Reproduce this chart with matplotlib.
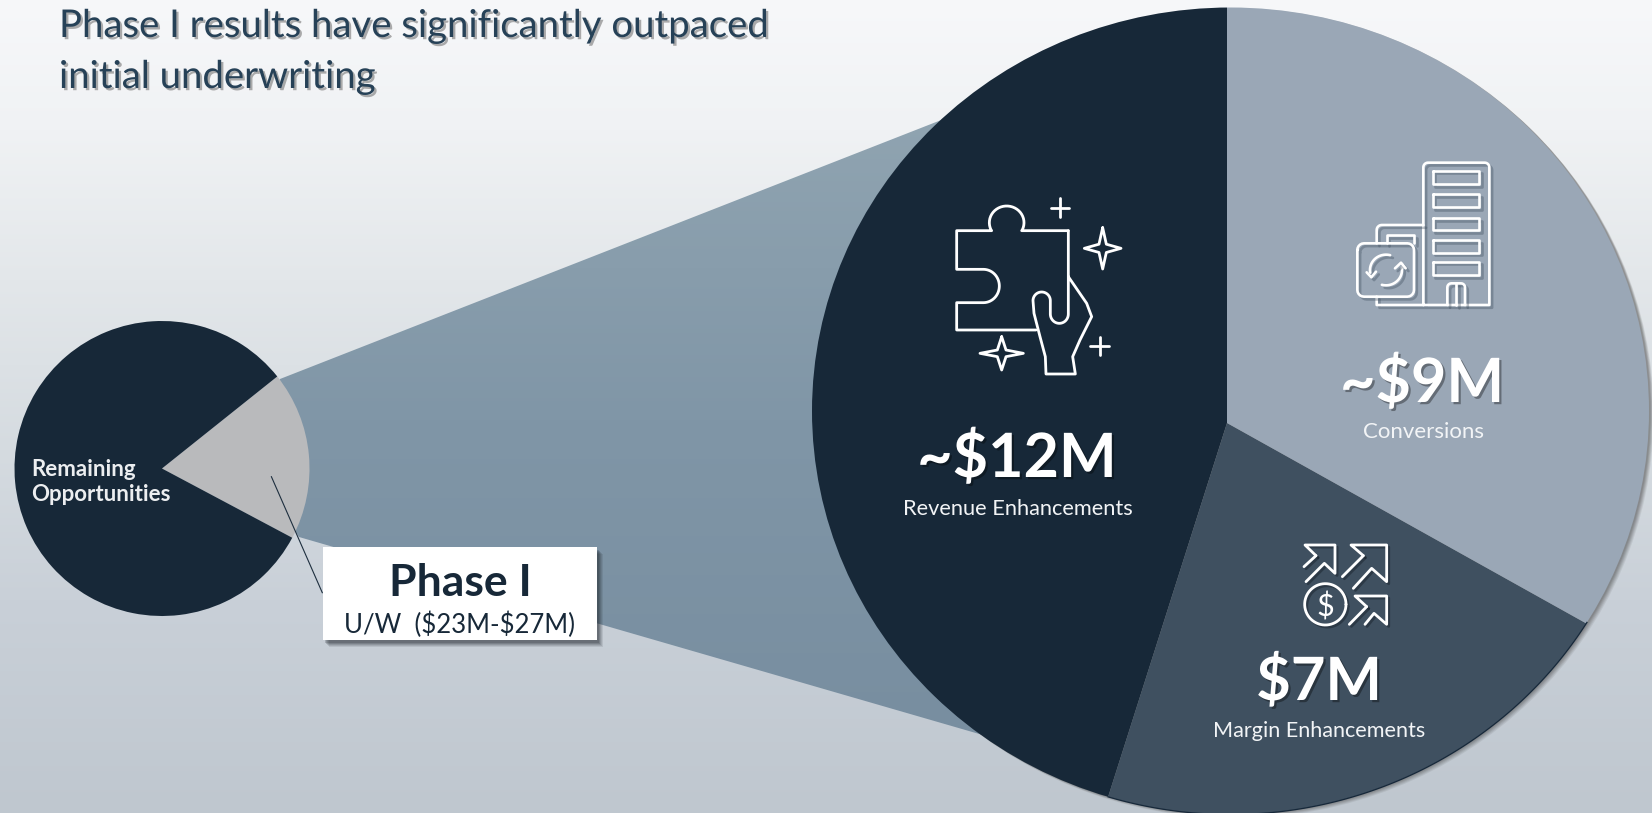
import numpy as np
import matplotlib
matplotlib.use("Agg")
import matplotlib.pyplot as plt
import matplotlib.patheffects as pe
from matplotlib.patches import Ellipse, Polygon, Rectangle

# ---- data -------------------------------------------------------------
overview_labels = ["Phase I", "Remaining Opportunities"]
overview_shares = [18.5, 81.5]
overview_colors = ["#b9babc", "#172838"]

phase_labels = ["Revenue Enhancements", "Margin Enhancements", "Conversions"]
phase_amounts = ["~$12M", "$7M", "~$9M"]
phase_shares = [45.1, 21.8, 33.1]
phase_colors = ["#172838", "#3f5060", "#9aa7b6"]

title_lines = ["Phase I results have significantly outpaced", "initial underwriting"]

W, H = 1652, 813
FONT = "Lato"
WHITE = "#ffffff"


def Y(py):
    return H - py


fig = plt.figure(figsize=(W / 100, H / 100), dpi=100)
ax = fig.add_axes([0, 0, 1, 1])

# ---- background gradient ----------------------------------------------
stop_y = [0, 130, 280, 450, 600, 813]
stop_c = np.array([[0xf7, 0xf8, 0xfa], [0xf0, 0xf2, 0xf4], [0xe3, 0xe7, 0xea],
                   [0xd5, 0xdb, 0xe0], [0xc9, 0xd0, 0xd8], [0xbf, 0xc7, 0xcf]]) / 255
rows = np.arange(H)
bg = np.stack([np.interp(rows, stop_y, stop_c[:, i]) for i in range(3)], axis=1)[:, None, :]
ax.imshow(bg, extent=(0, W, 0, H), origin="upper", aspect="auto", zorder=0)

# ---- funnel between the pies ------------------------------------------
f_stop_y = [116, 420, 730]
f_stop_c = np.array([[0x90, 0xa4, 0xb1], [0x80, 0x96, 0xa7], [0x78, 0x8e, 0xa0]]) / 255
f_rows = np.arange(813)
fg = np.stack([np.interp(f_rows, f_stop_y, f_stop_c[:, i]) for i in range(3)], axis=1)[:, None, :]
fim = ax.imshow(fg, extent=(0, W, 0, H), origin="upper", aspect="auto", zorder=1)
funnel = Polygon([(280, Y(379)), (1000, Y(97)), (1000, Y(740)), (299, Y(537)), (250, Y(460))],
                 closed=True, transform=ax.transData, facecolor="none", edgecolor="none")
ax.add_patch(funnel)
fim.set_clip_path(funnel)

# ---- small pie --------------------------------------------------------
ax.pie(overview_shares, colors=overview_colors, startangle=-28, counterclock=True,
       center=(162, Y(468.5)), radius=147.5, frame=False,
       wedgeprops=dict(linewidth=0, zorder=3))

# ---- large pie: apex sits off the centre of the enclosing ellipse ------
EX, EY, ERX, ERY = 1230.5, 411.0, 418.5, 403.5
for off, a in [(6, .10), (5, .12), (4, .14), (3, .16), (2, .18)]:
    ax.add_patch(Ellipse((EX + off * .8, Y(EY - 1 + off * .8)), 2 * ERX, 2 * ERY, facecolor="#4a4a4a",
                         edgecolor="none", alpha=a, zorder=4))
clip = Ellipse((EX, Y(EY)), 2 * ERX, 2 * ERY, facecolor="none", edgecolor="none", zorder=4)
ax.add_patch(clip)
wedges, _ = ax.pie(phase_shares, colors=phase_colors, startangle=90, counterclock=True,
                   center=(1227, Y(423)), radius=900, frame=False,
                   wedgeprops=dict(linewidth=0, zorder=5))
for w in wedges:
    w.set_clip_on(True)
    w.set_clip_path(clip)
t = np.radians(np.linspace(-107, -31.6, 120))
ax.plot(EX + ERX * np.cos(t), Y(EY) + ERY * np.sin(t), color="#16283a", lw=0.9, zorder=6)

ax.set_xlim(0, W)
ax.set_ylim(0, H)
ax.set_aspect("auto")
ax.axis("off")

# ---- text helpers -----------------------------------------------------
shadow = [pe.withSimplePatchShadow(offset=(1.6, -1.6), shadow_rgbFace="#000000", alpha=0.35)]


def txt(x, y, s, size, color=WHITE, weight="normal", ha="center", fx=None, z=10):
    return ax.text(x, Y(y), s, fontsize=size, color=color, fontweight=weight, ha=ha, va="baseline",
                   fontfamily=FONT, zorder=z, path_effects=fx, parse_math=False)


# ---- title ------------------------------------------------------------
title_fx = [pe.withSimplePatchShadow(offset=(1.6, -1.6), shadow_rgbFace="#777777", alpha=0.6)]
txt(59, 37, title_lines[0], 27.6, "#264157", ha="left", fx=title_fx)
txt(59, 88, title_lines[1], 27.6, "#264157", ha="left", fx=title_fx)

# ---- small pie labels / call-out --------------------------------------
txt(31, 476, "Remaining", 16, "#eceef0", "bold", ha="left", z=7)
txt(31, 501, "Opportunities", 16, "#eceef0", "bold", ha="left", z=7)
ax.plot([271.4, 322.3], [Y(476.7), Y(592.7)], color="#1d2e3e", lw=0.8, zorder=7)
for off, a in [(7, .10), (6, .12), (5, .14), (4, .18), (3, .2)]:
    ax.add_patch(Rectangle((323 + off - 1, Y(640 + off)), 274, 93, facecolor="#20262c", edgecolor="none",
                           alpha=a, zorder=7))
ax.add_patch(Rectangle((323, Y(640)), 274, 93, facecolor=WHITE, edgecolor="none", zorder=8))
txt(460, 596, overview_labels[0], 32, "#172838", "bold")
txt(460, 633, "U/W  ($23M-$27M)", 18.5, "#172838")

# ---- big pie labels ---------------------------------------------------
txt(1017, 477, phase_amounts[0], 44, WHITE, "bold", fx=shadow)
txt(1017.5, 515, phase_labels[0], 15.7, "#f2f4f6")
txt(1319, 700, phase_amounts[1], 43, WHITE, "bold", fx=shadow)
txt(1319, 737, phase_labels[1], 15.6, "#f2f4f6")
txt(1422, 402, phase_amounts[2], 44, WHITE, "bold", fx=shadow)
txt(1423, 438, phase_labels[2], 16, "#f2f4f6")

# ---- icons ------------------------------------------------------------
LW = 2.0


def arc(cx, cy, rx, ry, a0, a1, n=30):
    a = np.radians(np.linspace(a0, a1, n))
    return np.column_stack([cx + rx * np.cos(a), cy - ry * np.sin(a)])


def line(pts, ox, oy, sc, lw=LW, fx=None):
    pts = np.asarray(pts, float)
    ax.plot(ox + pts[:, 0] / sc, Y(oy + pts[:, 1] / sc), color=WHITE, lw=lw, zorder=9,
            solid_capstyle="round", solid_joinstyle="round", path_effects=fx)


def star(cx, cy, rx, ry, ox, oy, sc):
    wx, wy = rx * .2, ry * .2
    v = [(cx, cy - ry), (cx + wx, cy - wy), (cx + rx, cy), (cx + wx, cy + wy), (cx, cy + ry),
         (cx - wx, cy + wy), (cx - rx, cy), (cx - wx, cy - wy), (cx, cy - ry)]
    line(v, ox, oy, sc)


# puzzle + hand (crop coordinates: origin 930,180, 3x)
ox, oy, sc = 930, 180, 3
puzzle = np.vstack([
    [(415, 152), (275, 152)],
    arc(230, 128, 52, 50, -25, 205),
    [(185, 152), (80, 152), (80, 268), (160, 268)],
    arc(160, 318, 48, 50, 90, -90),
    [(160, 368), (80, 368), (80, 450), (318, 450)],
])
line(puzzle, ox, oy, sc)
hand = np.vstack([
    [(415, 152), (415, 402)],
    arc(388, 402, 27, 28, 0, -180),
    [(361, 402), (361, 362)],
    arc(335, 362, 26, 26, 0, 180),
    [(309, 362), (312, 400), (330, 470), (346, 530), (348, 582), (436, 582), (428, 530),
     (450, 480), (485, 410), (470, 370), (415, 290)],
])
line(hand, ox, oy, sc)
line([(390, 55), (390, 111)], ox, oy, sc)
line([(362, 83), (418, 83)], ox, oy, sc)
line([(509, 470), (509, 526)], ox, oy, sc)
line([(481, 498), (537, 498)], ox, oy, sc)
star(518, 205, 55, 62, ox, oy, sc)
star(215, 520, 65, 50, ox, oy, sc)

# building (origin 1340,150, 3x)
ox, oy, sc = 1340, 150, 3
bfx = [pe.SimpleLineShadow(offset=(2, -2), shadow_color="#3a4a5a", alpha=0.35), pe.Normal()]


def bline(p):
    line(p, ox, oy, sc, lw=1.9, fx=bfx)


bline(np.vstack([[(250, 465), (250, 52)], arc(264, 52, 14, 14, 180, 90, 8), [(264, 38), (434, 38)],
                 arc(434, 52, 14, 14, 90, 0, 8), [(448, 52), (448, 465), (110, 465), (110, 440)]]))
for y0, y1 in [(62, 102), (133, 172), (205, 240), (270, 308), (335, 375)]:
    bline([(278, y0), (418, y0), (418, y1), (278, y1), (278, y0)])
bline(np.vstack([[(322, 465), (322, 412)], arc(334, 412, 12, 12, 180, 90, 6), [(334, 400), (363, 400)],
                 arc(363, 412, 12, 12, 90, 0, 6), [(375, 412), (375, 465)]]))
bline([(348, 400), (348, 465)])
bline(np.vstack([[(110, 280), (110, 240)], arc(125, 240, 15, 15, 180, 90, 6), [(125, 225), (250, 225)]]))
bline([(140, 280), (140, 255), (222, 255), (222, 280)])
bline(np.vstack([[(52, 300), (52, 420)], arc(72, 420, 20, 20, 180, 270, 6), [(72, 440), (202, 440)],
                 arc(202, 420, 20, 20, 270, 360, 6), [(222, 420), (222, 300)],
                 arc(202, 300, 20, 20, 0, 90, 6), [(202, 280), (72, 280)],
                 arc(72, 300, 20, 20, 90, 180, 6)]))
bline(arc(138, 360, 48, 46, 75, 190))
bline([(80, 367), (94, 382), (108, 365)])
bline(arc(138, 360, 48, 46, -105, 10))
bline([(165, 355), (183, 338), (197, 355)])

# arrows + dollar (origin 1290,535, 3x)
ox, oy, sc = 1290, 535, 3
afx = [pe.SimpleLineShadow(offset=(1.5, -1.5), shadow_color="#101820", alpha=0.4), pe.Normal()]


def aline(p):
    line(p, ox, oy, sc, lw=2.0, fx=afx)


aline([(78, 62), (45, 30), (135, 30), (135, 115), (103, 85), (48, 140)])
aline([(78, 62), (42, 95)])
aline([(220, 62), (183, 30), (290, 30), (290, 140), (245, 100), (190, 160)])
aline([(220, 62), (157, 125)])
aline([(230, 215), (195, 183), (290, 183), (290, 268), (252, 235), (225, 268)])
aline([(230, 215), (178, 268)])
aline(arc(106, 208, 62, 62, 0, 360, 60))
ax.text(ox + 106 / sc, Y(oy + 208 / sc), "$", fontsize=22, color=WHITE, ha="center", va="center_baseline",
        fontfamily=FONT, zorder=9, parse_math=False)

fig.savefig("out.png", dpi=100)
